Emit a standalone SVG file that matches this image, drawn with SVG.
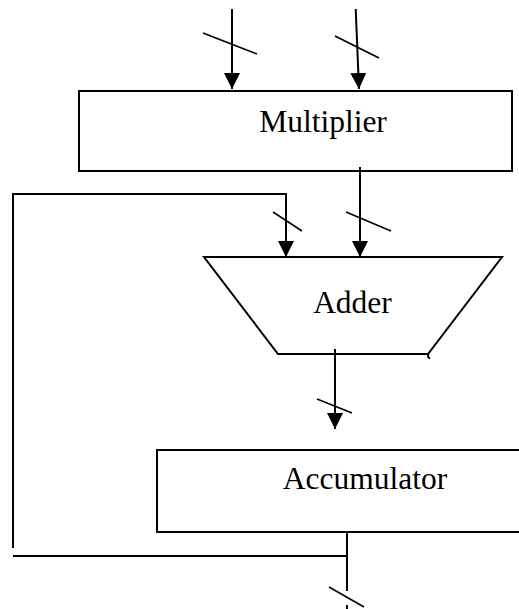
<svg xmlns="http://www.w3.org/2000/svg" width="519" height="609" viewBox="0 0 519 609">
<style>
.box{fill:#fff;stroke:#000;stroke-width:2}
.ln{fill:none;stroke:#000;stroke-width:2}
.sl{fill:none;stroke:#000;stroke-width:1.6}
.lbl{font-family:"Liberation Serif","Times New Roman",serif;font-size:31.5px;fill:#000;text-anchor:middle}
</style>
<defs>
<marker id="arr" markerUnits="userSpaceOnUse" markerWidth="16" markerHeight="16" refX="16" refY="8" orient="auto" viewBox="0 0 16 16">
<path d="M0,0 L16,8 L0,16 z" fill="#000"/>
</marker>
</defs>
<g id="multiplier">
<rect class="box" x="79" y="91" width="433" height="80"/>
<text class="lbl" x="323" y="132">Multiplier</text>
</g>
<g id="adder">
<polygon class="box" points="204,257 502,257 428,354 278,354"/>
<path class="ln" d="M428.5,354 q-1.5,3 1.5,4.5" stroke-width="1.5"/>
<text class="lbl" x="352.5" y="313">Adder</text>
</g>
<g id="accumulator">
<rect class="box" x="157" y="450" width="370" height="82"/>
<text class="lbl" x="365" y="489">Accumulator</text>
</g>
<g id="connectors">
<line class="ln" x1="232" y1="9" x2="232" y2="89" marker-end="url(#arr)"/>
<line class="ln" x1="355.7" y1="9" x2="359" y2="89" marker-end="url(#arr)"/>
<line class="ln" x1="360" y1="167" x2="360" y2="257" marker-end="url(#arr)"/>
<polyline class="ln" points="13,548 13,194 286,194 286,257" marker-end="url(#arr)"/>
<line class="ln" x1="335" y1="349" x2="335" y2="429" marker-end="url(#arr)"/>
<line class="ln" x1="347" y1="532" x2="347" y2="591"/>
<line class="ln" x1="13" y1="556" x2="347" y2="556"/>
<line class="ln" x1="347" y1="605" x2="347" y2="609"/>
<line class="sl" x1="203" y1="33" x2="257" y2="54"/>
<line class="sl" x1="335" y1="36" x2="379" y2="58"/>
<line class="sl" x1="273" y1="212" x2="302" y2="231"/>
<line class="sl" x1="346" y1="212" x2="391" y2="231"/>
<line class="sl" x1="317" y1="399" x2="352" y2="413"/>
<line class="sl" x1="329" y1="587" x2="364" y2="607"/>
</g>
</svg>
